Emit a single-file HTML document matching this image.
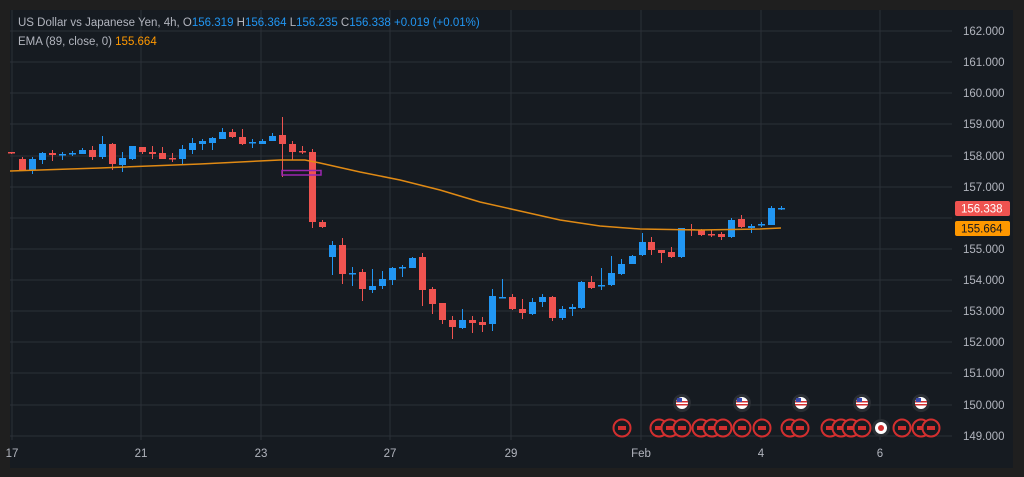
<!DOCTYPE html>
<html><head><meta charset="utf-8"><style>
body{margin:0;background:#1f1f1f;}
svg{display:block;font-family:"Liberation Sans",sans-serif;}
</style></head><body>
<svg width="1024" height="477" viewBox="0 0 1024 477">
<rect width="1024" height="477" fill="#1f1f1f"/>
<rect x="10" y="10" width="1003" height="458" fill="#161b21"/>
<g stroke="#2b3037" stroke-width="1">
<line x1="10" x2="952" y1="31" y2="31"/><line x1="10" x2="952" y1="62" y2="62"/><line x1="10" x2="952" y1="93" y2="93"/><line x1="10" x2="952" y1="124" y2="124"/><line x1="10" x2="952" y1="156" y2="156"/><line x1="10" x2="952" y1="187" y2="187"/><line x1="10" x2="952" y1="218" y2="218"/><line x1="10" x2="952" y1="249" y2="249"/><line x1="10" x2="952" y1="280" y2="280"/><line x1="10" x2="952" y1="311" y2="311"/><line x1="10" x2="952" y1="342" y2="342"/><line x1="10" x2="952" y1="373" y2="373"/><line x1="10" x2="952" y1="405" y2="405"/><line x1="10" x2="952" y1="436" y2="436"/>
<line x1="12" x2="12" y1="10" y2="440"/><line x1="141" x2="141" y1="10" y2="440"/><line x1="261" x2="261" y1="10" y2="440"/><line x1="390" x2="390" y1="10" y2="440"/><line x1="511" x2="511" y1="10" y2="440"/><line x1="641" x2="641" y1="10" y2="440"/><line x1="761" x2="761" y1="10" y2="440"/><line x1="880" x2="880" y1="10" y2="440"/>
</g>
<g id="c"></g>
<polyline fill="none" stroke="#e08a14" stroke-width="1.5" points="10,171 100,168 200,164 280,160 305,160 320,163 360,172 400,180 440,190 480,202 520,211 560,220 600,226 640,229 700,230 760,229 781,228"/>
<rect x="282" y="170.5" width="39" height="4.5" fill="none" stroke="#9c27b0" stroke-width="1.5"/>
<g font-size="11.5" fill="#b2b5be" text-anchor="middle">
<text x="12" y="457">17</text><text x="141" y="457">21</text><text x="261" y="457">23</text><text x="390" y="457">27</text><text x="511" y="457">29</text><text x="641" y="457">Feb</text><text x="761" y="457">4</text><text x="880" y="457">6</text>
</g>
<g font-size="11.5" fill="#b2b5be">
<text x="963" y="35">162.000</text><text x="963" y="66">161.000</text><text x="963" y="97">160.000</text><text x="963" y="128">159.000</text><text x="963" y="160">158.000</text><text x="963" y="191">157.000</text><text x="963" y="253">155.000</text><text x="963" y="284">154.000</text><text x="963" y="315">153.000</text><text x="963" y="346">152.000</text><text x="963" y="377">151.000</text><text x="963" y="409">150.000</text><text x="963" y="440">149.000</text>
</g>
<rect x="955" y="201" width="55" height="15" rx="2" fill="#ef5350"/>
<text x="961" y="212.5" font-size="11.5" fill="#fff">156.338</text>
<rect x="955" y="221" width="55" height="15" rx="2" fill="#ff9800"/>
<text x="961" y="232.5" font-size="11.5" fill="#131722">155.664</text>
<g id="ev"></g>
<text x="18" y="26" font-size="11.5" fill="#b2b5be">US Dollar vs Japanese Yen, 4h,  O<tspan fill="#2196f3">156.319</tspan>  H<tspan fill="#2196f3">156.364</tspan>  L<tspan fill="#2196f3">156.235</tspan>  C<tspan fill="#2196f3">156.338</tspan>  <tspan fill="#2196f3">+0.019 (+0.01%)</tspan></text>
<text x="18" y="45" font-size="11.5" fill="#b2b5be">EMA (89, close, 0)  <tspan fill="#ff9800">155.664</tspan></text>
</svg>
<script>
var d=[[11,152,153,152,154,'r'],[22,159,170,157,170,'r'],[32,159,170,157,174,'b'],[42,153,160,152,164,'b'],[52,153,155,150,161,'r'],[62,154,154,152,160,'b'],[72,153,153,151,156,'b'],[82,150,154,148,154,'b'],[92,150,157,146,160,'r'],[102,144,157,136,159,'b'],[112,144,164,143,170,'r'],[122,158,165,152,172,'b'],[132,146,159,146,160,'b'],[142,147,152,147,154,'r'],[152,152,154,146,159,'r'],[162,153,159,147,159,'r'],[172,158,158,153,162,'r'],[182,149,159,145,164,'b'],[192,143,150,138,154,'b'],[202,141,144,139,150,'b'],[212,138,143,137,150,'b'],[222,132,139,128,139,'b'],[232,132,137,129,138,'r'],[242,137,144,129,145,'r'],[252,142,142,139,148,'b'],[262,141,144,139,144,'b'],[272,136,141,133,141,'b'],[282,135,144,117,177,'r'],[292,144,152,141,160,'r'],[302,151,152,146,154,'r'],[312,152,222,149,228,'r'],[322,222,227,220,228,'r'],
[332,245,257,241,275,'b'],[342,245,274,238,284,'r'],[352,273,273,267,286,'b'],[362,272,289,269,301,'r'],[372,286,290,269,293,'b'],[382,279,286,271,289,'b'],[392,268,280,267,285,'b'],[402,267,267,265,277,'b'],[412,258,268,257,268,'b'],[422,257,290,253,306,'r'],[432,289,304,287,314,'r'],[442,303,320,303,324,'r'],[452,320,327,316,339,'r'],[462,320,328,309,329,'b'],[472,320,323,316,333,'r'],[482,322,325,317,332,'r'],[492,296,324,289,331,'b'],[502,297,297,279,298,'b'],[512,297,309,294,310,'r'],[522,309,313,299,319,'r'],[532,302,314,298,315,'b'],[542,297,302,294,307,'b'],[552,297,318,296,321,'r'],[562,309,318,306,320,'b'],[572,307,309,304,316,'b'],[581,282,308,281,309,'b'],[591,282,288,276,289,'r'],[601,285,285,268,290,'b'],[611,273,285,256,286,'b'],[621,264,274,259,275,'b'],[632,256,264,255,264,'b'],[642,242,255,233,256,'b'],[651,242,250,237,255,'r'],[661,250,253,250,263,'r'],[671,252,257,247,258,'r'],[681,228,257,228,258,'b'],[691,229,229,224,236,'r'],[701,230,235,229,236,'r'],[711,234,234,230,237,'r'],[721,234,237,232,240,'r'],[731,220,237,218,238,'b'],[741,219,227,215,228,'r'],[751,226,228,224,233,'b'],[761,224,224,222,227,'b'],[771,208,225,206,225,'b'],[781,208,208,206,210,'b']];
var s='';d.forEach(function(c){var col=c[5]=='r'?'#ef5350':'#2196f3';s+='<line x1="'+(c[0]+.5)+'" x2="'+(c[0]+.5)+'" y1="'+c[3]+'" y2="'+c[4]+'" stroke="'+col+'"/>';var h=Math.max(c[2]-c[1],1.5);s+='<rect x="'+(c[0]-3)+'" y="'+c[1]+'" width="7" height="'+h+'" fill="'+col+'"/>';});
document.getElementById('c').innerHTML=s;
var e='',xs=[622,659,670,682,701,712,723,742,762,790,800,830,841,851,862,902,921,931];
xs.forEach(function(x){e+='<circle cx="'+x+'" cy="428" r="8.5" fill="#161b21" stroke="#d32f2f" stroke-width="2"/><rect x="'+(x-4)+'" y="426" width="8" height="4" fill="#d32f2f"/>';});
e+='<circle cx="881" cy="428" r="9" fill="#2a2e33"/><circle cx="881" cy="428" r="6" fill="#fff"/><circle cx="881" cy="428" r="3" fill="#d32f2f"/>';
[682,742,801,862,921].forEach(function(x){e+='<circle cx="'+x+'" cy="403" r="9" fill="#2a2e33"/><circle cx="'+x+'" cy="403" r="6" fill="#fff"/><rect x="'+(x-6)+'" y="401" width="12" height="1.5" fill="#d32f2f"/><rect x="'+(x-6)+'" y="404" width="12" height="1.5" fill="#d32f2f"/><rect x="'+(x-5)+'" y="398" width="5" height="4" fill="#3949ab"/>';});
document.getElementById('ev').innerHTML=e;
</script>
</body></html>
